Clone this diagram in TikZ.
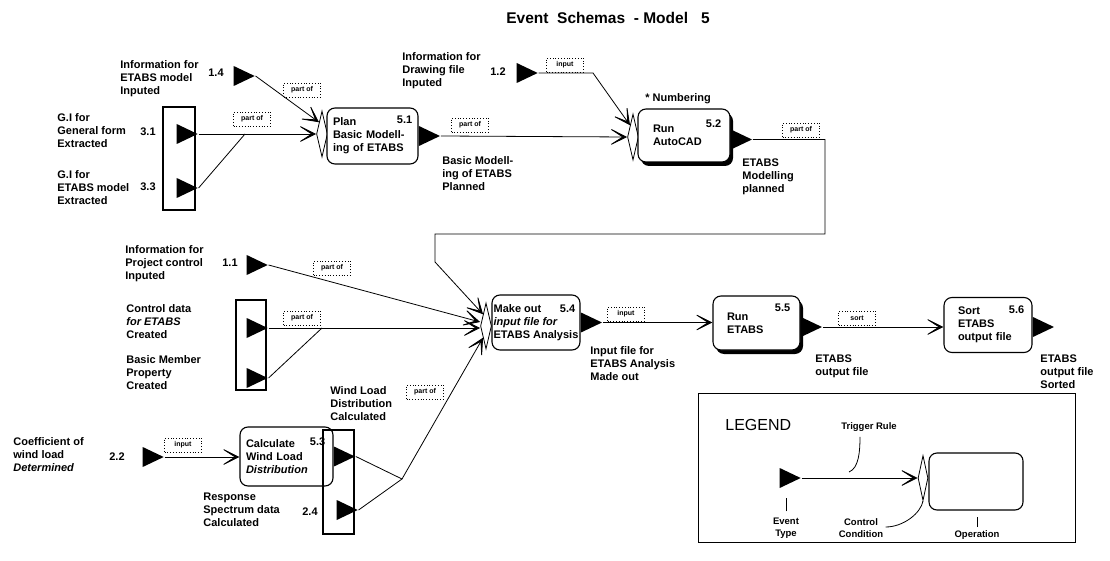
\documentclass[tikz,border=0pt]{standalone}
\usepackage{fontspec}
\setmainfont{Liberation Sans}
\usepackage{tikz}
\usetikzlibrary{calc}
\usetikzlibrary{arrows.meta}
\usetikzlibrary{shapes.geometric}
\usetikzlibrary{shadows}

\newcommand{\lblf}{\fontsize{11}{13}\selectfont\bfseries}
\newcommand{\rulef}{\fontsize{7}{8}\selectfont\bfseries}
\newcommand{\legf}{\fontsize{9.5}{12}\selectfont\bfseries}

\begin{document}
\begin{tikzpicture}[x=1pt,y=-1pt,line width=0.8pt,
    op node/.style={draw,fill=white,rounded corners=8pt,line width=1.1pt,align=left,font=\lblf,inner sep=0pt},
    sh node/.style={op node,drop shadow={shadow xshift=3pt,shadow yshift=-4pt,opacity=1,fill=black}},
    ev node/.style={isosceles triangle,isosceles triangle apex angle=55,isosceles triangle stretches,fill=black,inner sep=0pt,minimum width=20pt,minimum height=21pt},
    cc node/.style={diamond,draw,fill=white,inner sep=0pt,minimum width=11pt,minimum height=46pt},
    rule box/.style={draw,dotted,font=\rulef,inner sep=0pt,minimum width=37pt,minimum height=14pt},
    txt/.style={font=\lblf,align=left,anchor=west,inner sep=0pt},
    num/.style={font=\lblf,inner sep=0pt},
    trig/.style={-{Stealth[length=22pt,width=22pt,inset=17pt]}}]
    \useasboundingbox (0,0) rectangle (1110,561);
    \node[font=\fontsize{15.5}{18}\selectfont\bfseries] (title) at (608,18) {Event\ \ Schemas\ \ - Model\ \ \ 5};

    \node[txt] (t14) at (120,79) {Information for\\ETABS model\\Inputed};
    \node[num] (n14) at (216,73) {1.4};
    \node[ev node] (e14) at (240,76) {};
    \node[rule box] (r14) at (302,90) {part of};

    \draw[line width=1.1pt] (163,107) rectangle (195,210);
    \node[txt] (t31) at (57,131) {G.I for\\General form\\Extracted};
    \node[num] (n31) at (148,132) {3.1};
    \node[ev node] (e31) at (183,134) {};
    \node[txt] (t33) at (57,188) {G.I for\\ETABS model\\Extracted};
    \node[num] (n33) at (148,187) {3.3};
    \node[ev node] (e33) at (183,188) {};
    \node[rule box] (r31) at (252,119) {part of};
    \coordinate (j1) at (245,134);

    \node[cc node] (d51) at (322,134) {};
    \node[op node,minimum width=91pt,minimum height=56pt,text width=79pt] (o51) at (372.5,136) {Plan\\Basic Modell-\\ing of ETABS};
    \node[num] (n51) at ($(o51.north east)+(-14,12)$) {5.1};
    \node[ev node,anchor=lower side] (e51) at (o51.east) {};
    \node[rule box] (r51) at (470,125) {part of};
    \node[txt] (t51) at (442,174) {Basic Modell-\\ing of ETABS\\Planned};

    \node[txt] (t12) at (402,71) {Information for\\Drawing file\\Inputed};
    \node[num] (n12) at (498,72) {1.2};
    \node[ev node] (e12) at (523,73) {};
    \node[rule box] (r12) at (565,65) {input};
    \coordinate (k1) at (593,73);

    \node[txt] (numb) at (645,99) {* Numbering};
    \node[cc node] (d52) at (633,137) {};
    \node[sh node,minimum width=92pt,minimum height=53pt,text width=62pt] (o52) at (684,135.5) {Run\\AutoCAD};
    \node[num] (n52) at ($(o52.north east)+(-17,15)$) {5.2};
    \node[ev node,anchor=lower side] (e52) at ($(o52.east)+(0,4)$) {};
    \node[rule box] (r52) at (801,130) {part of};
    \node[txt] (t52) at (742,177) {ETABS\\Modelling\\planned};
    \coordinate (k3) at (825,234);
    \coordinate (k4) at (435,234);
    \coordinate (k5) at (435,262);

    \node[txt] (t11) at (125,264) {Information for\\Project control\\Inputed};
    \node[num] (n11) at (230,263) {1.1};
    \node[ev node] (e11) at (253,265) {};
    \node[rule box] (r11) at (332,268) {part of};
    \draw[line width=1.1pt] (236,300) rectangle (266,390);
    \node[txt] (tcd) at (126,322) {Control data\\\textit{for ETABS}\\Created};
    \node[ev node] (ecd) at (253,328) {};
    \node[ev node] (ebm) at (253,378) {};
    \node[txt] (tbm) at (126,373) {Basic Member\\Property\\Created};
    \node[rule box] (rcd) at (302,318) {part of};
    \coordinate (j2) at (322,328);

    \node[cc node] (d54) at (486,326) {};
    \node[op node,minimum width=88pt,minimum height=55pt] (o54) at (536,322.5) {Make out\\\textit{input file for}\\ETABS Analysis};
    \node[num] (n54) at ($(o54.north east)+(-13,14)$) {5.4};
    \node[ev node,anchor=lower side] (e54) at (o54.east) {};
    \node[rule box] (r54) at (626,314) {input};
    \node[txt] (t54) at (590,364) {Input file for\\ETABS Analysis\\Made out};

    \node[sh node,minimum width=87pt,minimum height=54pt,text width=59pt] (o55) at (756.5,323) {Run\\ETABS};
    \node[num] (n55) at ($(o55.north east)+(-18,12)$) {5.5};
    \node[ev node,anchor=lower side] (e55) at ($(o55.east)+(0,4)$) {};
    \node[rule box] (r55) at (857,318) {sort};
    \node[txt] (t55) at (815,366) {ETABS\\output file};

    \node[op node,minimum width=88pt,minimum height=55pt,text width=60pt] (o56) at (988,325) {Sort\\ETABS\\output file};
    \node[num] (n56) at ($(o56.north east)+(-16,13)$) {5.6};
    \node[ev node,anchor=lower side] (e56) at ($(o56.east)+(0,2)$) {};
    \node[txt] (t56) at (1040,372) {ETABS\\output file\\Sorted};

    \node[txt] (t22) at (13,455) {Coefficient of\\wind load\\\textit{Determined}};
    \node[num] (n22) at (117,457) {2.2};
    \node[ev node] (e22) at (149,457) {};
    \node[rule box] (r22) at (183,445) {input};
    \node[op node,minimum width=93pt,minimum height=59pt,text width=81pt] (o53) at (286.5,456.5) {Calculate\\Wind Load\\\textit{Distribution}};
    \draw[line width=1.1pt] (323,430) rectangle (354,534);
    \node[num] (n53) at ($(o53.north east)+(-16,15)$) {5.3};
    \node[ev node,anchor=lower side] (e53) at (o53.east) {};
    \node[ev node] (e24) at (343,510) {};
    \node[num] (n24) at (310,512) {2.4};
    \node[txt] (t24) at (203,510) {Response\\Spectrum data\\Calculated};
    \coordinate (j3) at (402,479);
    \node[rule box] (r53) at (425,392) {part of};
    \node[txt] (t53) at (330,404) {Wind Load\\Distribution\\Calculated};

    \draw[trig] (e14.apex) -- (d51.north west);
    \draw[trig] (e31.apex) -- (d51.west);
    \draw (e33.apex) -- (j1);
    \draw[trig] (e51.apex) -- (d52.west);
    \draw[trig] (e12.apex) -- (k1) -- (d52.north west);
    \draw[trig] (e52.apex) -| (k3) -- (k4) -- (k5) -- (d54.north west);
    \draw[trig] (e11.apex) -- ($(d54.west)+(0,-4)$);
    \draw[trig] (ecd.apex) -- ($(d54.west)+(0,2)$);
    \draw (ebm.apex) -- (j2);
    \draw (e53.apex) -- (j3) -- (e24.apex);
    \draw[trig] (j3) -- (d54.south west);
    \draw[trig] (e54.apex) -- (e54.apex -| o55.west);
    \draw[trig] (e55.apex) -- (e55.apex -| o56.west);
    \draw[trig] (e22.apex) -- (e22.apex -| o53.west);

    \draw[line width=1pt] (698,393) rectangle (1075,542);
    \node[font=\fontsize{16}{18}\selectfont,anchor=west,inner sep=0pt] (leg) at (725,425) {LEGEND};
    \node[font=\legf,inner sep=0pt] (lrule) at (869,427) {Trigger Rule};
    \node[ev node] (le) at (786,478) {};
    \node[cc node,minimum height=45pt,minimum width=10pt] (ld) at (923,478) {};
    \node[op node,minimum width=94pt,minimum height=57pt] (lo) at (976,481.5) {};
    \node[font=\legf,align=center,inner sep=0pt] (let) at (786,528) {Event\\Type};
    \node[font=\legf,align=center,inner sep=0pt] (lcc) at (861,528) {Control\\Condition};
    \node[font=\legf,inner sep=0pt] (lop) at (977,535) {Operation};
    \coordinate (hk) at (849,472);
    \draw[trig] (le.apex) -- (ld.west);
    \draw (hk) .. controls +(10,-4) and +(0,14) .. ($(lrule.south)+(-9,5)$);
    \draw (let.north) ++(0,-6) -- ++(0,-13);
    \draw ($(lcc.east)+(2,-1)$) .. controls +(18,0) and +(-2,12) .. (ld.south);
    \draw (lop.north) ++(0,-3) -- ++(0,-10);
\end{tikzpicture}
\end{document}
